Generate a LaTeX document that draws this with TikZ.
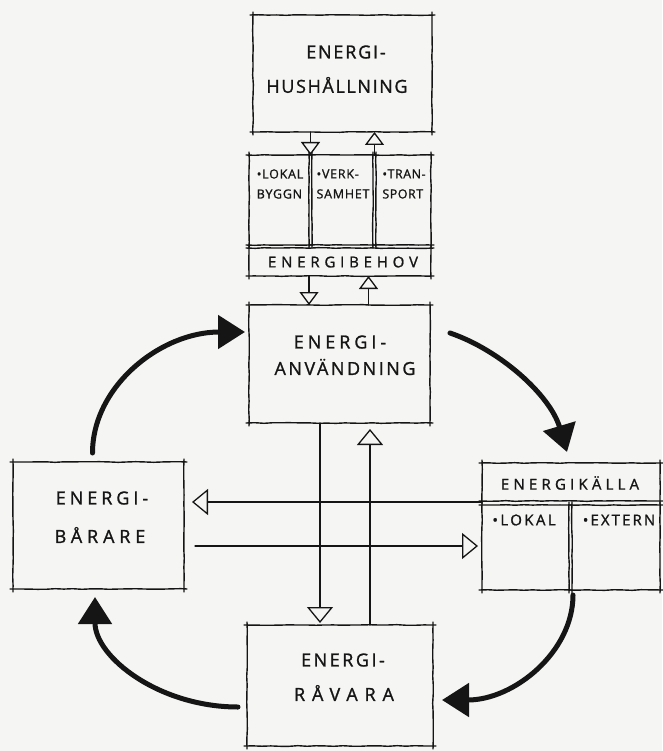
\documentclass[tikz,border=0pt]{standalone}
\usepackage{fontspec}
\setmainfont{Open Sans}
\newfontfamily\handfont[FakeBold=1.2]{Open Sans}
\usetikzlibrary{arrows.meta,decorations.pathmorphing}
\definecolor{ink}{HTML}{151515}
\definecolor{paper}{HTML}{F5F5F3}

% draws the four sides of a box node, each side running a little past the corners
\newcommand\skbox[1]{%
  \draw[skline] ([xshift=-3pt]#1.north west) -- ([xshift=3pt]#1.north east);
  \draw[skline] ([xshift=-3pt]#1.south west) -- ([xshift=3pt]#1.south east);
  \draw[skline] ([yshift=3pt]#1.north west) -- ([yshift=-3pt]#1.south west);
  \draw[skline] ([yshift=3pt]#1.north east) -- ([yshift=-3pt]#1.south east);
}

\begin{document}
\begin{tikzpicture}[x=1pt,y=-1pt,
  skline/.style={ink, line width=1.4pt, line cap=round,
    decorate, decoration={random steps, segment length=9pt, amplitude=0.35pt}},
  box/.style={inner sep=0pt, outer sep=0pt, draw=none},
  big/.style={text=ink, inner sep=0pt,
    font=\handfont\fontsize{18}{18}\selectfont\addfontfeature{LetterSpace=#1}},
  mid/.style={text=ink, inner sep=0pt,
    font=\handfont\fontsize{15}{15}\selectfont\addfontfeature{LetterSpace=#1}},
  small/.style={text=ink, inner sep=0pt, align=left,
    font=\handfont\fontsize{12.5}{20}\selectfont\addfontfeature{LetterSpace=#1}},
  flow/.style={ink, line width=1.3pt, line cap=round,
    -{Triangle[open, length=13pt, width=19pt, fill=paper]}},
  longflow/.style={flow, -{Triangle[open, length=16pt, width=26pt, fill=paper]}},
  cycle/.style={ink, line width=5pt, line cap=round,
    -{Triangle[length=27pt, width=33pt]}}
]
\fill[paper] (0,0) rectangle (662,751);
\useasboundingbox (0,0) rectangle (662,751);

% boxes
\node[box, minimum width=179pt, minimum height=117pt] (hus)   at (342.5,73.5) {};
\node[box, minimum width=60pt,  minimum height=90pt]  (lokal) at (279,200) {};
\node[box, minimum width=61pt,  minimum height=90pt]  (verk)  at (342.5,200) {};
\node[box, minimum width=55pt,  minimum height=90pt]  (tran)  at (403.5,200) {};
\node[box, minimum width=182pt, minimum height=28pt]  (behov) at (340,262) {};
\node[box, minimum width=181pt, minimum height=118pt] (anv)   at (339.5,364) {};
\node[box, minimum width=186pt, minimum height=121pt] (rav)   at (340,685.5) {};
\node[box, minimum width=171pt, minimum height=127pt] (bar)   at (98.5,525.5) {};
\node[box, minimum width=178pt, minimum height=38pt]  (kalla) at (571,482) {};
\node[box, minimum width=87pt,  minimum height=85pt]  (klok)  at (525.5,547.5) {};
\node[box, minimum width=88pt,  minimum height=85pt]  (kext)  at (616,547.5) {};
\foreach \b in {hus,lokal,verk,tran,behov,anv,rav,bar,kalla,klok,kext} {\skbox{\b}}

% labels
\node[big=10] (husA) at (346,52) {ENERGI-};
\node[big=9]  (husB) at (337,85) {HUSHÅLLNING};
\node[small=6] (lokalT) at (280,184) {•LOKAL\\BYGGN};
\node[small=6] (verkT)  at (343,184) {•VERK-\\SAMHET};
\node[small=4] (tranT)  at (404,184) {•TRAN-\\SPORT};
\node[mid=32] (behovT) at (343,262) {ENERGIBEHOV};
\node[big=22] (anvA) at (340,342) {ENERGI-};
\node[big=14] (anvB) at (345,367) {ANVÄNDNING};
\node[big=14] (ravA) at (343,660) {ENERGI-};
\node[big=38] (ravB) at (344,693) {RÅVARA};
\node[big=22] (barA) at (102,498) {ENERGI-};
\node[big=27] (barB) at (100,535) {BÅRARE};
\node[mid=28] (kallaT) at (570,483) {ENERGIKÄLLA};
\node[mid=16] (klokT)  at (524,520) {•LOKAL};
\node[mid=14] (kextT)  at (619,520) {•EXTERN};

% thin flows between the central boxes
\coordinate (f1) at ([xshift=-32pt]hus.south);
\coordinate (f2) at ([xshift=32pt]hus.south);
\draw[flow] (f1) -- (f1 |- verk.north);
\draw[flow] (f2 |- verk.north) -- (f2);
\coordinate (f3) at ([xshift=-31pt]behov.south);
\coordinate (f4) at ([xshift=28.5pt]behov.south);
\draw[flow] (f3) -- (f3 |- anv.north);
\draw[flow] (f4 |- anv.north) -- (f4);
\coordinate (f5) at ([xshift=-19.5pt]anv.south);
\coordinate (f6) at ([xshift=30.5pt]anv.south);
\draw[longflow, shorten >=2pt] (f5) -- (f5 |- rav.north);
\draw[longflow, shorten >=6pt] (f6 |- rav.north) -- (f6);
\coordinate (f7) at ([yshift=-1pt]kalla.south west);
\draw[longflow, shorten >=8pt] (f7) -- (f7 -| bar.east);
\coordinate (f8) at ([yshift=1.5pt]klok.west);
\draw[longflow, shorten <=11pt, shorten >=4pt] (f8 -| bar.east) -- (f8);

% the energy cycle
\draw[cycle] ([xshift=-6pt,yshift=9pt]bar.north)
  .. controls +(0,-67) and +(-84,0) .. ([xshift=-4pt,yshift=32pt]anv.west);
\draw[cycle] ([xshift=20pt,yshift=31pt]anv.east)
  .. controls +(50,17) and +(-17,-57) .. ([xshift=-4pt,yshift=11pt]kalla.north);
\draw[cycle] ([xshift=1pt,yshift=-5pt]kext.south west)
  .. controls +(0,57) and +(72,0) .. ([xshift=9pt,yshift=-14.5pt]rav.east);
\draw[cycle] ([xshift=-9pt,yshift=-21.5pt]rav.west)
  .. controls +(-79,0) and +(0,60) .. ([xshift=-3.5pt,yshift=-8pt]bar.south);
\end{tikzpicture}
\end{document}
